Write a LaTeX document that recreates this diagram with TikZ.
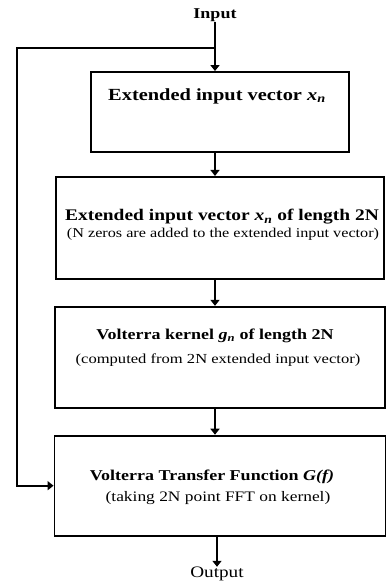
\documentclass[tikz,border=0pt]{standalone}
\usepackage{fontspec}
\setmainfont{Liberation Serif}[FakeStretch=1.2]
\usetikzlibrary{positioning,arrows.meta}

\begin{document}
\begin{tikzpicture}[x=1pt,y=1pt,
    block/.style={draw,line width=1.9pt,minimum height=#1,inner sep=0pt},
    heading/.style={font=\fontsize{15}{18}\selectfont\bfseries,inner sep=0pt},
    remark/.style={font=\fontsize{14.5}{17}\selectfont,inner sep=0pt},
    flow/.style={line width=1.9pt,-{Triangle[width=9pt,length=6pt]}}]
  \useasboundingbox (0,0) rectangle (386,584);

  \node[heading] (in) at (215,569) {Input};

  \node[block=80pt,minimum width=258pt] (b1) at (220,472) {};
  \node[block=102pt,minimum width=328pt] (b2) [below=23pt of b1] {};
  \node[block=101pt,minimum width=330pt] (b3) [below=26pt of b2] {};
  \node[block=100pt,minimum width=331pt] (b4) [below=26pt of b3] {};

  % texts inside the blocks
  \node[heading,font=\fontsize{17}{20}\selectfont\bfseries] (t1) at ([xshift=-3pt,yshift=-25pt]b1.north) {Extended input vector {\itshape x\textsubscript{n}}};
  \node[heading,font=\fontsize{16.2}{19}\selectfont\bfseries] (t2) at ([xshift=2pt,yshift=-41pt]b2.north) {Extended input vector {\itshape x\textsubscript{n}} of length 2N};
  \node[remark,font=\fontsize{13.5}{16}\selectfont] (r2) at ([xshift=3pt,yshift=-58pt]b2.north) {(N zeros are added to the extended input vector)};
  \node[heading] (t3) at ([xshift=-5pt,yshift=-30pt]b3.north) {Volterra kernel {\itshape g\textsubscript{n}} of length 2N};
  \node[remark,font=\fontsize{13.8}{16}\selectfont] (r3) at ([xshift=-2pt,yshift=-54pt]b3.north) {(computed from 2N extended input vector)};
  \node[heading] (t4) at ([xshift=-8pt,yshift=-42pt]b4.north) {Volterra Transfer Function {\itshape G(f)}};
  \node[remark] (r4) at ([xshift=-2pt,yshift=-63pt]b4.north) {(taking 2N point FFT on kernel)};

  \node[font=\fontsize{16}{19}\selectfont,inner sep=0pt] (out) at (217,10) {Output};

  \coordinate (jn) at (215,536);
  \coordinate (fb) at (17,536);

  \draw[flow] (in) -- (b1.north -| in);
  \draw[flow] (b1.south -| in) -- (b2.north -| in);
  \draw[flow] (b2.south -| in) -- (b3.north -| in);
  \draw[flow] (b3.south -| in) -- (b4.north -| in);
  \draw[flow] (b4.south -| out) -- (out);
  \draw[flow] (jn) -- (fb) |- (b4.west);
\end{tikzpicture}
\end{document}
